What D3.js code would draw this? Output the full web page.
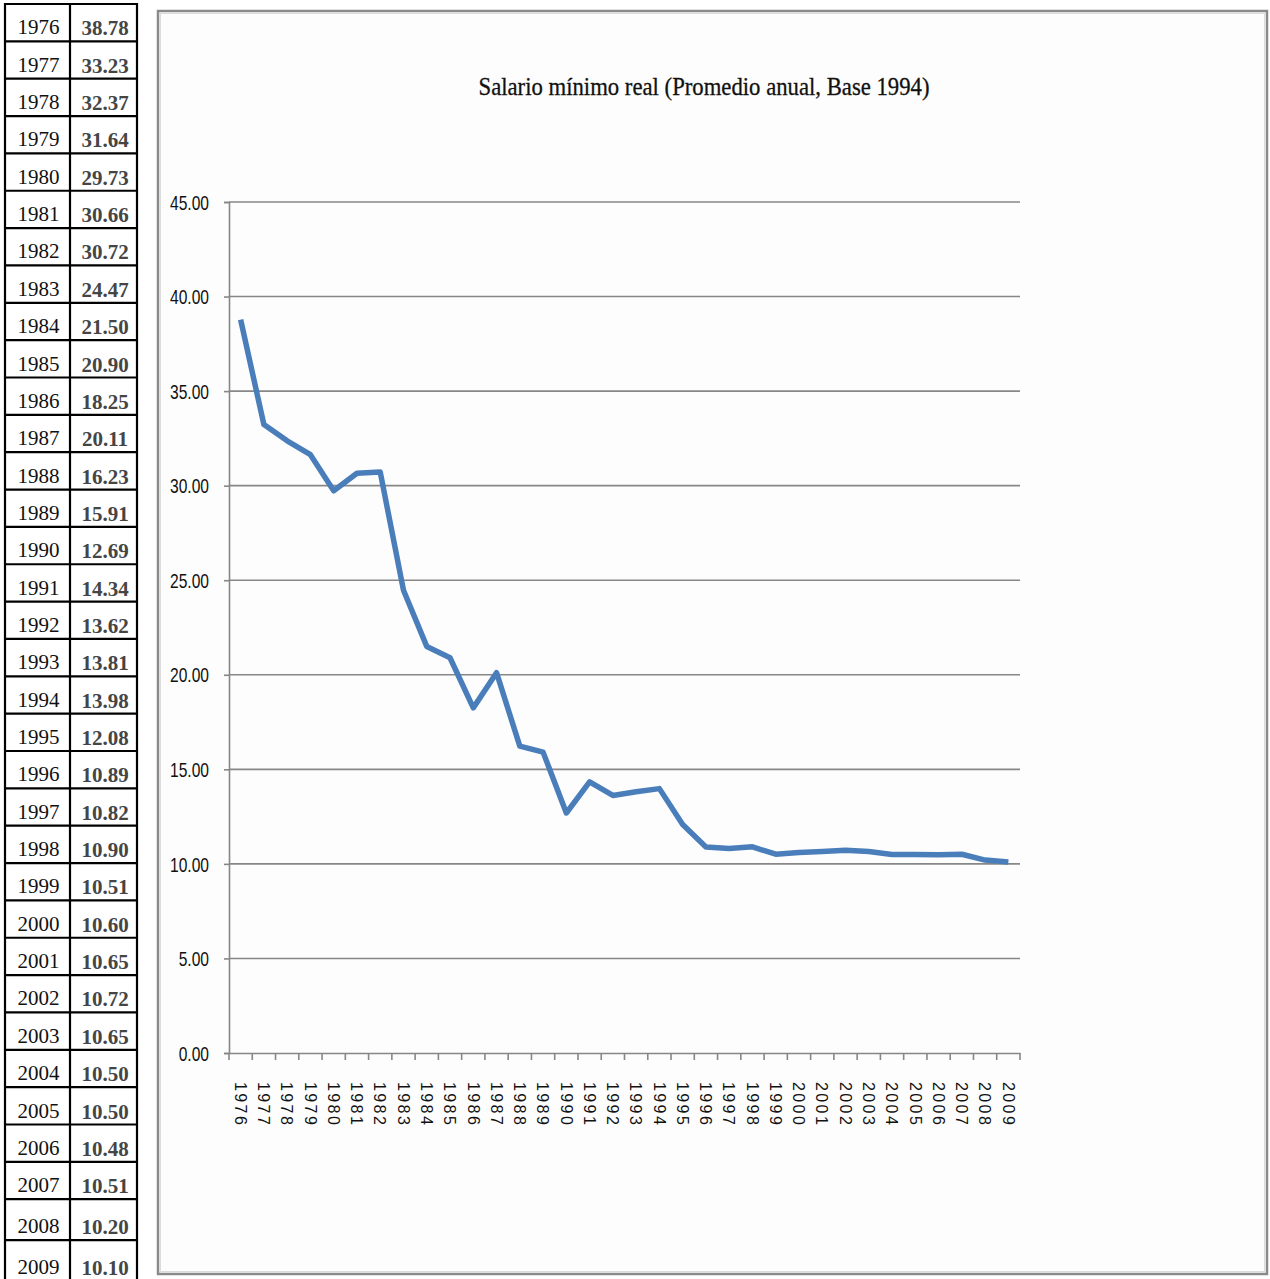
<!DOCTYPE html>
<html>
<head>
<meta charset="utf-8">
<script src="https://cdn.jsdelivr.net/npm/d3@7"></script>
<style>
  html, body { margin: 0; padding: 0; background: #ffffff; }
  svg { display: block; }
</style>
</head>
<body>
<svg id="chart" width="1270" height="1279"></svg>
<script>
// Real minimum wage, yearly average (base 1994)
const years = [1976, 1977, 1978, 1979, 1980, 1981, 1982, 1983, 1984, 1985,
  1986, 1987, 1988, 1989, 1990, 1991, 1992, 1993, 1994, 1995,
  1996, 1997, 1998, 1999, 2000, 2001, 2002, 2003, 2004, 2005,
  2006, 2007, 2008, 2009];
const salario = [38.78, 33.23, 32.37, 31.64, 29.73, 30.66, 30.72, 24.47, 21.50, 20.90,
  18.25, 20.11, 16.23, 15.91, 12.69, 14.34, 13.62, 13.81, 13.98, 12.08,
  10.89, 10.82, 10.90, 10.51, 10.60, 10.65, 10.72, 10.65, 10.50, 10.50,
  10.48, 10.51, 10.20, 10.10];
const yTicks = [0, 5, 10, 15, 20, 25, 30, 35, 40, 45];
const chartTitle = "Salario mínimo real (Promedio anual, Base 1994)";

const svg = d3.select("#chart");

// ---------- data table on the left ----------
const tbl = { left: 5, mid: 70, right: 137, top: 4, rowH: 37.35 };
// last two rows are a little taller
const rowTops = [];
let yy = tbl.top;
years.forEach((_, i) => {
  rowTops.push(yy);
  yy += (i >= years.length - 2) ? 41 : tbl.rowH;
});
const tableBottom = yy;

const tg = svg.append("g").attr("class", "table");
tg.selectAll("line.row")
  .data(rowTops.concat([tableBottom]))
  .join("line")
  .attr("x1", tbl.left).attr("x2", tbl.right)
  .attr("y1", d => d).attr("y2", d => d)
  .attr("stroke", "#000").attr("stroke-width", 2.2);
[tbl.left, tbl.mid, tbl.right].forEach(x => {
  tg.append("line")
    .attr("x1", x).attr("x2", x)
    .attr("y1", tbl.top - 1).attr("y2", tableBottom)
    .attr("stroke", "#000").attr("stroke-width", 2.2);
});
const rowData = years.map((y, i) => ({ year: y, v: salario[i], top: rowTops[i],
  h: (i >= years.length - 2) ? 41 : tbl.rowH }));
tg.selectAll("text.year")
  .data(rowData)
  .join("text")
  .attr("class", "year")
  .attr("x", (tbl.left + tbl.mid) / 2 + 1)
  .attr("y", d => d.top + d.h - 7)
  .attr("text-anchor", "middle")
  .attr("font-family", "'Liberation Serif', 'DejaVu Serif', serif")
  .attr("font-size", 21)
  .attr("fill", "#111")
  .text(d => d.year);
tg.selectAll("text.val")
  .data(rowData)
  .join("text")
  .attr("class", "val")
  .attr("x", (tbl.mid + tbl.right) / 2 + 1.5)
  .attr("y", d => d.top + d.h - 6)
  .attr("text-anchor", "middle")
  .attr("font-family", "'Liberation Serif', 'DejaVu Serif', serif")
  .attr("font-size", 21)
  .attr("font-weight", "bold")
  .attr("fill", "#454545")
  .text(d => d.v.toFixed(2));

// ---------- chart frame ----------
svg.append("rect")
  .attr("x", 158).attr("y", 11)
  .attr("width", 1109).attr("height", 1263)
  .attr("fill", "#fdfdfd")
  .attr("stroke", "#8a8a8a").attr("stroke-width", 2.5);
svg.append("rect")
  .attr("x", 160.5).attr("y", 13.5)
  .attr("width", 1104).attr("height", 1258)
  .attr("fill", "none")
  .attr("stroke", "#dcdcdc").attr("stroke-width", 1);

svg.append("text")
  .attr("x", 704).attr("y", 95)
  .attr("text-anchor", "middle")
  .attr("font-family", "'Liberation Serif', serif")
  .attr("font-size", 25)
  .attr("fill", "#111")
  .attr("stroke", "#111").attr("stroke-width", 0.3)
  .attr("textLength", 451)
  .attr("lengthAdjust", "spacingAndGlyphs")
  .text(chartTitle);

// ---------- scales ----------
const plot = { left: 229, right: 1020, top: 202, bottom: 1053 };
const x = d3.scaleBand().domain(years).range([plot.left, plot.right]).padding(0);
const y = d3.scaleLinear().domain([0, 45]).range([plot.bottom, plot.top]);

// horizontal gridlines
svg.append("g").selectAll("line")
  .data(yTicks.filter(t => t > 0))
  .join("line")
  .attr("x1", plot.left).attr("x2", plot.right)
  .attr("y1", d => y(d)).attr("y2", d => y(d))
  .attr("stroke", "#878787").attr("stroke-width", 1.6);

// y axis
const yAxis = svg.append("g")
  .attr("transform", `translate(${plot.left},0)`)
  .call(d3.axisLeft(y).tickValues(yTicks).tickFormat(d3.format(".2f")).tickSize(5).tickPadding(15));
yAxis.select(".domain").attr("stroke", "#878787").attr("stroke-width", 1.6);
yAxis.selectAll(".tick line").attr("stroke", "#878787").attr("stroke-width", 1.6);
yAxis.selectAll(".tick text")
  .attr("font-family", "'Liberation Sans', Arial, sans-serif")
  .attr("font-size", 20)
  .attr("fill", "#111")
  .attr("dy", "0.36em")
  .each(function () {
    const t = d3.select(this);
    const tx = +t.attr("x");
    t.attr("x", tx / 0.78).attr("transform", "scale(0.78,1)");
  });

// x axis: category axis with ticks between categories
const xAxis = svg.append("g")
  .attr("transform", `translate(0,${plot.bottom})`)
  .call(d3.axisBottom(x).tickSize(0).tickPadding(0));
xAxis.select(".domain").attr("stroke", "#878787").attr("stroke-width", 1.6);
xAxis.selectAll(".tick text")
  .attr("font-family", "'Liberation Sans', Arial, sans-serif")
  .attr("font-size", 16)
  .attr("letter-spacing", "2.4px")
  .attr("fill", "#111")
  .attr("text-anchor", "start")
  .attr("x", 29)
  .attr("y", 0)
  .attr("dy", "0.36em")
  .attr("transform", "rotate(90)");
xAxis.append("g").selectAll("line")
  .data(years.map(d => x(d)).concat([x.range()[1]]))
  .join("line")
  .attr("x1", d => d).attr("x2", d => d)
  .attr("y1", 0).attr("y2", 7)
  .attr("stroke", "#878787").attr("stroke-width", 1.6);

// ---------- series line ----------
const line = d3.line()
  .x((d, i) => x(years[i]) + x.bandwidth() / 2)
  .y(d => y(d));
svg.append("path")
  .datum(salario)
  .attr("d", line)
  .attr("fill", "none")
  .attr("stroke", "#4a7ebb")
  .attr("stroke-width", 5.5)
  .attr("stroke-linejoin", "round")
  .attr("stroke-linecap", "butt");
</script>
</body>
</html>
